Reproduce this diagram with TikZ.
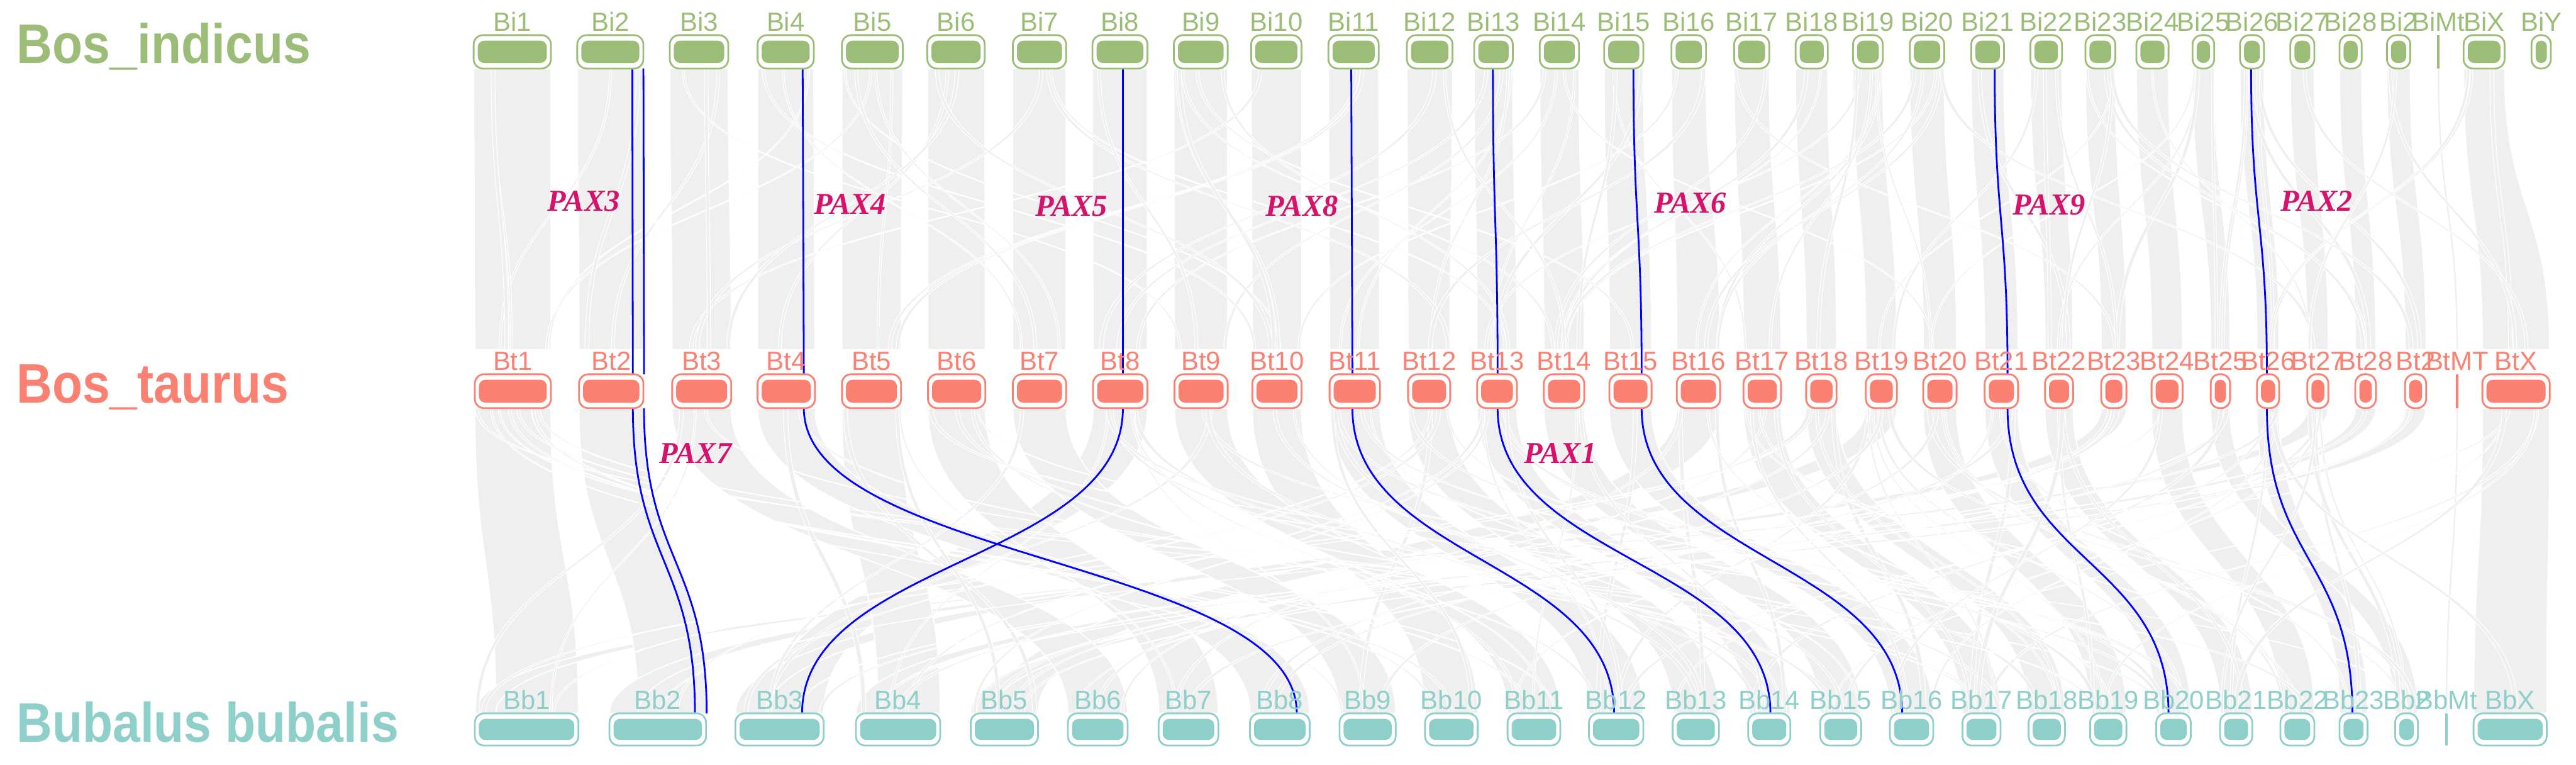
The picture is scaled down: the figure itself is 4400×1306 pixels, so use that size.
\documentclass[tikz,border=0pt]{standalone}
\usepackage{fontspec}
\usepackage{graphicx}
\setmainfont{Liberation Sans}
\newfontfamily\paxfont{Liberation Serif}
\definecolor{gi}{RGB}{155,189,120}
\definecolor{ta}{RGB}{250,128,114}
\definecolor{bu}{RGB}{142,207,201}
\definecolor{rib}{RGB}{239,239,239}
\definecolor{paxc}{RGB}{214,18,106}
\definecolor{pblue}{RGB}{0,0,255}
\newcommand\chrfont{\fontsize{45}{45}\selectfont}
\newcommand\spfont{\bfseries\fontsize{95}{95}\selectfont}
\newcommand\rbn[7][mainrib]{%
  \pgfmathsetmacro\rbM{(#4+#7)/2}%
  \filldraw[#1] (#2,#4) .. controls (#2,\rbM) and (#5,\rbM) .. (#5,#7) -- (#6,#7) .. controls (#6,\rbM) and (#3,\rbM) .. (#3,#4) -- cycle;}
\newcommand\chrom[7]{%
  \pgfmathsetmacro\cmX{(#3+#4)/2}%
  \pgfmathsetmacro\cmY{(#5+#6)/2}%
  \pgfmathsetmacro\cmW{#4-#3}%
  \pgfmathsetmacro\cmH{#6-#5}%
  \pgfmathsetmacro\cmR{min(16,\cmW/2-1)}%
  \pgfmathsetmacro\cmIW{max(\cmW-14,4)}%
  \pgfmathsetmacro\cmIH{\cmH-19}%
  \pgfmathsetmacro\cmIR{min(11,\cmIW/2-0.3)}%
  \node[chrbox, draw=#7, rounded corners=\cmR pt, minimum width=\cmW pt, minimum height=\cmH pt] (#1) at (\cmX,\cmY) {};
  \fill[#7, rounded corners=\cmIR pt] (\cmX-\cmIW/2,\cmY-\cmIH/2) rectangle (\cmX+\cmIW/2,\cmY+\cmIH/2);
  \node[chrlab, text=#7] (#1-lab) at (\cmX,#5-7) {#2};}
\newcommand\mtchrom[6]{%
  \pgfmathsetmacro\cmY{(#4+#5)/2}%
  \pgfmathsetmacro\cmH{#5-#4}%
  \node[fill=#6, inner sep=0pt, minimum width=4pt, minimum height=\cmH pt] (#1) at (#3,\cmY) {};
  \node[chrlab, text=#6] (#1-lab) at (#3,#4-7) {#2};}
\newcommand\paxpath[4]{%
  \coordinate (#1a) at (#2,117); \coordinate (#1b) at (#3,639);
  \coordinate (#1c) at (#3,697); \coordinate (#1d) at (#4,1218);
  \draw[paxline] (#1a) .. controls (#2,378) and (#3,378) .. (#1b);
  \draw[paxline] (#1c) .. controls (#3,957.5) and (#4,957.5) .. (#1d);}
\def\BiL{{809,986,1144,1294,1438,1584,1730,1866,2005,2137,2269,2403,2518,2630,2740,2855,2962,3067,3165,3262,3367,3468,3562,3649,3745,3826,3912,3996,4077,4208}}
\def\BiR{{941,1099,1244,1390,1542,1682,1821,1960,2097,2223,2355,2481,2584,2697,2807,2914,3022,3122,3216,3321,3423,3522,3613,3704,3782,3867,3953,4034,4117,4278}}
\def\BtL{{811,989,1148,1294,1438,1585,1730,1867,2006,2139,2271,2405,2523,2637,2749,2864,2978,3085,3187,3285,3390,3493,3589,3675,3776,3855,3941,4023,4108,4240}}
\def\BtR{{941,1099,1249,1392,1539,1683,1821,1960,2097,2223,2357,2477,2591,2706,2821,2938,3042,3137,3240,3342,3447,3541,3632,3728,3809,3893,3977,4058,4144,4355}}
\def\BbL{{811,1041,1256,1462,1658,1824,1979,2135,2288,2434,2575,2714,2857,2986,3109,3228,3352,3465,3570,3683,3792,3895,3996,4091,4225}}
\def\BbR{{988,1206,1407,1606,1773,1926,2081,2237,2384,2524,2665,2807,2936,3058,3179,3302,3417,3527,3632,3742,3847,3953,4044,4130,4350}}
\begin{document}
\begin{tikzpicture}[x=1pt,y=-1pt,
  mainrib/.style={fill=rib, draw=white, line width=2pt},
  thinrib/.style={fill=rib, draw=white, line width=1.2pt},
  paxline/.style={draw=pblue, line width=3pt},
  paxlab/.style={text=paxc, inner sep=0pt, font=\paxfont\bfseries\itshape\fontsize{52}{52}\selectfont},
  chrbox/.style={line width=3pt, fill=white, inner sep=0pt},
  chrlab/.style={anchor=base, inner sep=0pt, font=\chrfont},
  species/.style={anchor=base west, inner sep=0pt, font=\spfont}]
\useasboundingbox (0,0) rectangle (4400,1306);
% ---- main ribbons Bi -> Bt
\foreach \k in {0,...,29}{
  \pgfmathsetmacro\aL{\BiL[\k]}\pgfmathsetmacro\aR{\BiR[\k]}
  \pgfmathsetmacro\bL{\BtL[\k]}\pgfmathsetmacro\bR{\BtR[\k]}
  \rbn{\aL}{\aR}{117}{\bL}{\bR}{597}}
\rbn[thinrib]{4163}{4167}{117}{4195}{4199}{597}
% ---- main ribbons Bt -> Bb
\foreach \a/\b/\c/\d in {811/941/847/988, 3941/3977/811/847, 989/1099/1090/1206, 3589/3632/1041/1090,
  1867/1960/1310/1407, 3187/3240/1256/1310, 1438/1539/1500/1606, 4023/4058/1462/1500,
  2864/2938/1695/1773, 4108/4144/1658/1695, 1148/1249/1824/1926, 1585/1683/1979/2081,
  1294/1392/2135/2237, 1730/1821/2288/2384, 2139/2223/2434/2524, 2006/2097/2575/2665,
  2271/2357/2714/2807, 2405/2477/2857/2936, 2523/2591/2986/3058, 2637/2706/3109/3179,
  2749/2821/3228/3302, 2978/3042/3352/3417, 3085/3137/3465/3527, 3285/3342/3570/3632,
  3390/3447/3683/3742, 3493/3541/3792/3847, 3675/3728/3895/3953, 3855/3893/3996/4044,
  3776/3809/4091/4130, 4240/4355/4225/4350}{
  \rbn{\a}{\b}{697}{\c}{\d}{1218}}
\rbn[thinrib]{4195}{4199}{697}{4177}{4181}{1218}
% ---- thin links
\pgfmathsetseed{42}
\foreach \n in {1,...,85}{
  \pgfmathrandominteger{\kA}{0}{29}
  \pgfmathsetmacro\kB{int(max(0,min(29,\kA+round((rnd-0.5)*14))))}
  \pgfmathsetmacro\aL{\BiL[\kA]}\pgfmathsetmacro\aR{\BiR[\kA]}
  \pgfmathsetmacro\bL{\BtL[\kB]}\pgfmathsetmacro\bR{\BtR[\kB]}
  \pgfmathsetmacro\rkW{3+4*rnd}
  \pgfmathsetmacro\xA{\aL+rnd*(\aR-\aL-\rkW)}
  \pgfmathsetmacro\xB{\bL+rnd*(\bR-\bL-\rkW)}
  \rbn[thinrib]{\xA}{\xA+\rkW}{117}{\xB}{\xB+\rkW}{597}}
\foreach \n in {1,...,110}{
  \pgfmathrandominteger{\kA}{0}{29}
  \pgfmathrandominteger{\kB}{0}{24}
  \pgfmathsetmacro\aL{\BtL[\kA]}\pgfmathsetmacro\aR{\BtR[\kA]}
  \pgfmathsetmacro\bL{\BbL[\kB]}\pgfmathsetmacro\bR{\BbR[\kB]}
  \pgfmathsetmacro\rkW{3+5*rnd}
  \pgfmathsetmacro\xA{\aL+rnd*(\aR-\aL-\rkW)}
  \pgfmathsetmacro\xB{\bL+rnd*(\bR-\bL-\rkW)}
  \rbn[thinrib]{\xA}{\xA+\rkW}{697}{\xB}{\xB+\rkW}{1218}}
% ---- PAX lines
\paxpath{pthree}{1080}{1081}{1187}
\paxpath{pseven}{1099}{1100}{1207}
\paxpath{pfour}{1371}{1373}{2215}
\paxpath{pfive}{1918}{1918}{1370}
\paxpath{peight}{2308}{2310}{2757}
\paxpath{pone}{2550}{2558}{3024}
\paxpath{psix}{2790}{2804}{3249}
\paxpath{pnine}{3407}{3429}{3704}
\paxpath{ptwo}{3845}{3872}{4018}
% ---- chromosomes
\foreach \nm/\lb/\xl/\xr in {bi1/Bi1/809/941, bi2/Bi2/986/1099, bi3/Bi3/1144/1244, bi4/Bi4/1294/1390,
  bi5/Bi5/1438/1542, bi6/Bi6/1584/1682, bi7/Bi7/1730/1821, bi8/Bi8/1866/1960, bi9/Bi9/2005/2097,
  bi10/Bi10/2137/2223, bi11/Bi11/2269/2355, bi12/Bi12/2403/2481, bi13/Bi13/2518/2584,
  bi14/Bi14/2630/2697, bi15/Bi15/2740/2807, bi16/Bi16/2855/2914, bi17/Bi17/2962/3022,
  bi18/Bi18/3067/3122, bi19/Bi19/3165/3216, bi20/Bi20/3262/3321, bi21/Bi21/3367/3423,
  bi22/Bi22/3468/3522, bi23/Bi23/3562/3613, bi24/Bi24/3649/3704, bi25/Bi25/3745/3782,
  bi26/Bi26/3826/3867, bi27/Bi27/3912/3953, bi28/Bi28/3996/4034, bi29/Bi2/4077/4117,
  biX/BiX/4208/4278, biY/BiY/4324/4357}{
  \chrom{\nm}{\lb}{\xl}{\xr}{60}{117}{gi}}
\mtchrom{biMt}{BiMt}{4165}{60}{117}{gi}
\foreach \nm/\lb/\xl/\xr in {bt1/Bt1/811/941, bt2/Bt2/989/1099, bt3/Bt3/1148/1249, bt4/Bt4/1294/1392,
  bt5/Bt5/1438/1539, bt6/Bt6/1585/1683, bt7/Bt7/1730/1821, bt8/Bt8/1867/1960, bt9/Bt9/2006/2097,
  bt10/Bt10/2139/2223, bt11/Bt11/2271/2357, bt12/Bt12/2405/2477, bt13/Bt13/2523/2591,
  bt14/Bt14/2637/2706, bt15/Bt15/2749/2821, bt16/Bt16/2864/2938, bt17/Bt17/2978/3042,
  bt18/Bt18/3085/3137, bt19/Bt19/3187/3240, bt20/Bt20/3285/3342, bt21/Bt21/3390/3447,
  bt22/Bt22/3493/3541, bt23/Bt23/3589/3632, bt24/Bt24/3675/3728, bt25/Bt25/3776/3809,
  bt26/Bt26/3855/3893, bt27/Bt27/3941/3977, bt28/Bt28/4023/4058, bt29/Bt2/4108/4144,
  btX/BtX/4240/4355}{
  \chrom{\nm}{\lb}{\xl}{\xr}{639}{697}{ta}}
\mtchrom{btMT}{BtMT}{4197}{639}{697}{ta}
\foreach \nm/\lb/\xl/\xr in {bb1/Bb1/811/988, bb2/Bb2/1041/1206, bb3/Bb3/1256/1407, bb4/Bb4/1462/1606,
  bb5/Bb5/1658/1773, bb6/Bb6/1824/1926, bb7/Bb7/1979/2081, bb8/Bb8/2135/2237, bb9/Bb9/2288/2384,
  bb10/Bb10/2434/2524, bb11/Bb11/2575/2665, bb12/Bb12/2714/2807, bb13/Bb13/2857/2936,
  bb14/Bb14/2986/3058, bb15/Bb15/3109/3179, bb16/Bb16/3228/3302, bb17/Bb17/3352/3417,
  bb18/Bb18/3465/3527, bb19/Bb19/3570/3632, bb20/Bb20/3683/3742, bb21/Bb21/3792/3847,
  bb22/Bb22/3895/3953, bb23/Bb23/3996/4044, bb24/Bb2/4091/4130, bbX/BbX/4225/4350}{
  \chrom{\nm}{\lb}{\xl}{\xr}{1218}{1273}{bu}}
\mtchrom{bbMt}{BbMt}{4179}{1218}{1273}{bu}
% ---- PAX labels
\node[paxlab] (lpax3) at (997,343) {PAX3};
\node[paxlab] (lpax4) at (1452,349) {PAX4};
\node[paxlab] (lpax5) at (1830,352) {PAX5};
\node[paxlab] (lpax8) at (2224,352) {PAX8};
\node[paxlab] (lpax6) at (2887,347) {PAX6};
\node[paxlab] (lpax9) at (3500,350) {PAX9};
\node[paxlab] (lpax2) at (3957,343) {PAX2};
\node[paxlab] (lpax7) at (1188,774) {PAX7};
\node[paxlab] (lpax1) at (2665,774) {PAX1};
% ---- species
\node[species, text=gi] (spi) at (28,108) {\scalebox{0.89}[1]{Bos\_indicus}};
\node[species, text=ta] (spt) at (28,688) {\scalebox{0.89}[1]{Bos\_taurus}};
\node[species, text=bu] (spb) at (28,1267) {\scalebox{0.89}[1]{Bubalus bubalis}};
\end{tikzpicture}
\end{document}
